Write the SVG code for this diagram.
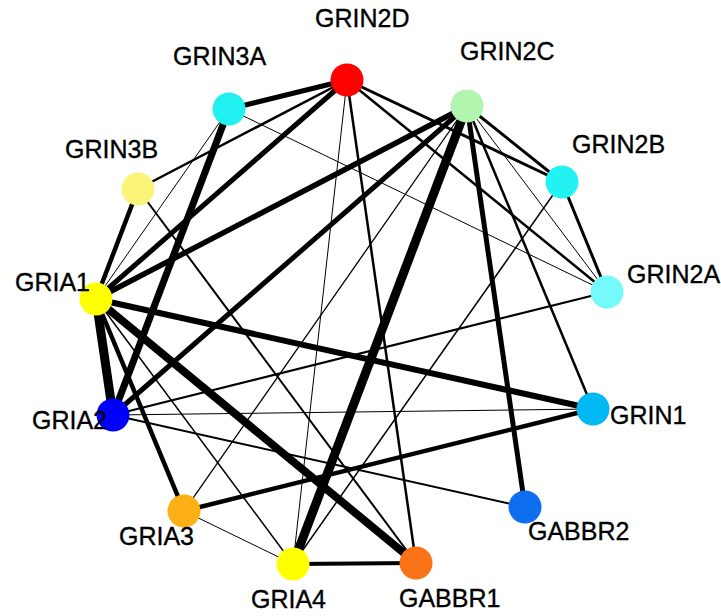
<svg xmlns="http://www.w3.org/2000/svg" width="721" height="616" viewBox="0 0 721 616">
<style>
.e{stroke:#000;fill:none;stroke-linecap:butt}
.n{stroke:none}
.t{font-family:"Liberation Sans",Arial,sans-serif;font-size:25px;fill:#000;stroke:#000;stroke-width:0.35}
</style>
<rect width="721" height="616" fill="#fff"/>
<g id="edges">
<line class="e" x1="467" y1="106" x2="293" y2="564" stroke-width="9"/>
<line class="e" x1="96" y1="299" x2="113" y2="415" stroke-width="9"/>
<line class="e" x1="96" y1="299" x2="416" y2="563" stroke-width="8"/>
<line class="e" x1="229" y1="109" x2="113" y2="415" stroke-width="7"/>
<line class="e" x1="96" y1="299" x2="593" y2="409" stroke-width="6"/>
<line class="e" x1="467" y1="106" x2="525" y2="507" stroke-width="5"/>
<line class="e" x1="96" y1="299" x2="467" y2="106" stroke-width="5.5"/>
<line class="e" x1="113" y1="415" x2="467" y2="106" stroke-width="5"/>
<line class="e" x1="96" y1="299" x2="347" y2="80" stroke-width="5"/>
<line class="e" x1="229" y1="109" x2="347" y2="80" stroke-width="5"/>
<line class="e" x1="184" y1="511" x2="593" y2="409" stroke-width="4.5"/>
<line class="e" x1="96" y1="299" x2="184" y2="511" stroke-width="4.5"/>
<line class="e" x1="293" y1="564" x2="416" y2="563" stroke-width="4"/>
<line class="e" x1="138" y1="189" x2="96" y2="299" stroke-width="4.5"/>
<line class="e" x1="467" y1="106" x2="562" y2="182" stroke-width="3"/>
<line class="e" x1="347" y1="80" x2="562" y2="182" stroke-width="3"/>
<line class="e" x1="347" y1="80" x2="607" y2="292" stroke-width="2.5"/>
<line class="e" x1="347" y1="80" x2="138" y2="189" stroke-width="2.5"/>
<line class="e" x1="347" y1="80" x2="416" y2="563" stroke-width="2.5"/>
<line class="e" x1="467" y1="106" x2="593" y2="409" stroke-width="2.5"/>
<line class="e" x1="562" y1="182" x2="607" y2="292" stroke-width="3"/>
<line class="e" x1="607" y1="292" x2="113" y2="415" stroke-width="2"/>
<line class="e" x1="113" y1="415" x2="525" y2="507" stroke-width="2"/>
<line class="e" x1="138" y1="189" x2="416" y2="563" stroke-width="2"/>
<line class="e" x1="562" y1="182" x2="293" y2="564" stroke-width="1.5"/>
<line class="e" x1="467" y1="106" x2="184" y2="511" stroke-width="1.3"/>
<line class="e" x1="96" y1="299" x2="293" y2="564" stroke-width="1.5"/>
<line class="e" x1="347" y1="80" x2="293" y2="564" stroke-width="1"/>
<line class="e" x1="229" y1="109" x2="607" y2="292" stroke-width="1"/>
<line class="e" x1="229" y1="109" x2="96" y2="299" stroke-width="1"/>
<line class="e" x1="467" y1="106" x2="607" y2="292" stroke-width="1"/>
<line class="e" x1="113" y1="415" x2="593" y2="409" stroke-width="1"/>
<line class="e" x1="184" y1="511" x2="293" y2="564" stroke-width="1"/>
</g>
<g id="GRIN2D"><circle class="n" cx="347" cy="80" r="16.5" fill="#ff0000"/><text class="t" x="315" y="27">GRIN2D</text></g>
<g id="GRIN2C"><circle class="n" cx="467" cy="106" r="16.5" fill="#b2f5ae"/><text class="t" x="460" y="60">GRIN2C</text></g>
<g id="GRIN2B"><circle class="n" cx="562" cy="182" r="16.5" fill="#22f2f2"/><text class="t" x="572" y="153">GRIN2B</text></g>
<g id="GRIN2A"><circle class="n" cx="607" cy="292" r="16.5" fill="#74fafa"/><text class="t" x="627" y="283">GRIN2A</text></g>
<g id="GRIN1"><circle class="n" cx="593" cy="409" r="16.5" fill="#00b8f2"/><text class="t" x="610" y="424">GRIN1</text></g>
<g id="GABBR2"><circle class="n" cx="525" cy="507" r="16.5" fill="#0d6ef0"/><text class="t" x="528" y="540">GABBR2</text></g>
<g id="GABBR1"><circle class="n" cx="416" cy="563" r="16.5" fill="#fa7316"/><text class="t" x="399" y="607">GABBR1</text></g>
<g id="GRIA4"><circle class="n" cx="293" cy="564" r="16.5" fill="#ffff00"/><text class="t" x="251" y="608">GRIA4</text></g>
<g id="GRIA3"><circle class="n" cx="184" cy="511" r="16.5" fill="#fdb016"/><text class="t" x="119" y="545">GRIA3</text></g>
<g id="GRIA2"><circle class="n" cx="113" cy="415" r="16.5" fill="#0000ff"/><text class="t" x="32" y="429">GRIA2</text></g>
<g id="GRIA1"><circle class="n" cx="96" cy="299" r="16.5" fill="#ffff00"/><text class="t" x="15" y="291">GRIA1</text></g>
<g id="GRIN3B"><circle class="n" cx="138" cy="189" r="16.5" fill="#faf57a"/><text class="t" x="65" y="158">GRIN3B</text></g>
<g id="GRIN3A"><circle class="n" cx="229" cy="109" r="16.5" fill="#20f0f0"/><text class="t" x="173" y="65">GRIN3A</text></g>
</svg>
